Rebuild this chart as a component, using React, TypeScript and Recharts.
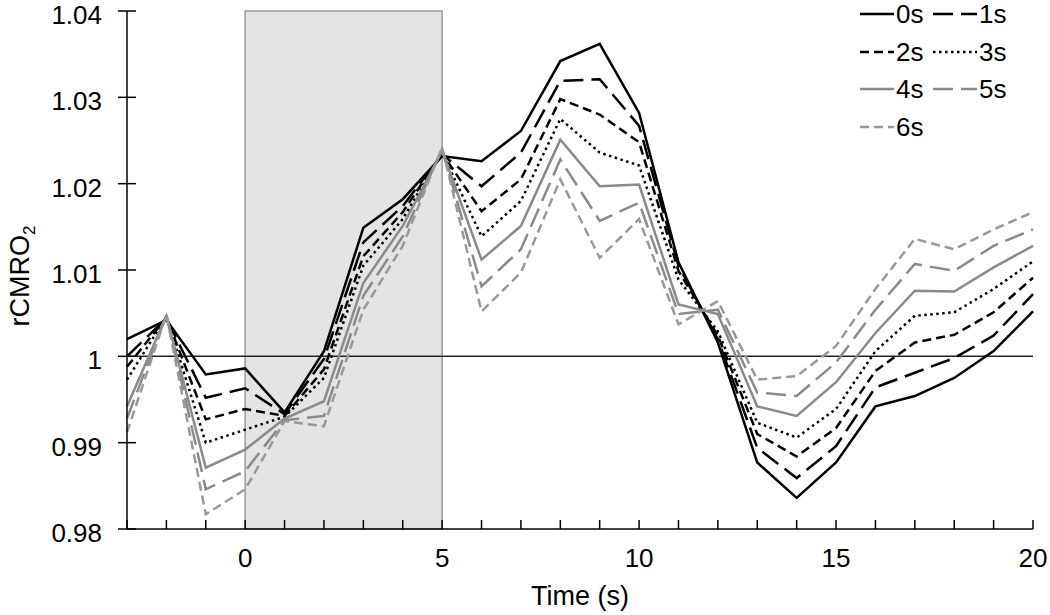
import { LineChart, Line, XAxis, YAxis, ReferenceArea, ReferenceLine, Legend } from 'recharts';

// time points (s)
const times = [-3, -2, -1, 0, 1, 2, 3, 4, 5, 6, 7, 8, 9, 10, 11, 12, 13, 14, 15, 16, 17, 18, 19, 20];

// rCMRO2 for each delay
const delay0 = [1.0020, 1.0042, 0.9979, 0.9986, 0.9935, 1.0006, 1.0149, 1.0182, 1.0232, 1.0226, 1.0261, 1.0342, 1.0362, 1.0282, 1.0109, 1.0016, 0.9877, 0.9836, 0.9877, 0.9942, 0.9954, 0.9975, 1.0006, 1.0052];
const delay1 = [1.0000, 1.0044, 0.9952, 0.9963, 0.9933, 0.9997, 1.0132, 1.0174, 1.0234, 1.0197, 1.0236, 1.0319, 1.0321, 1.0267, 1.0105, 1.0020, 0.9894, 0.9859, 0.9896, 0.9964, 0.9981, 0.9998, 1.0024, 1.0072];
const delay2 = [0.9988, 1.0045, 0.9927, 0.9939, 0.9931, 0.9985, 1.0116, 1.0167, 1.0235, 1.0168, 1.0205, 1.0298, 1.0280, 1.0248, 1.0099, 1.0024, 0.9910, 0.9884, 0.9917, 0.9983, 1.0016, 1.0025, 1.0051, 1.0091];
const delay3 = [0.9973, 1.0046, 0.9900, 0.9915, 0.9930, 0.9975, 1.0105, 1.0159, 1.0236, 1.0139, 1.0180, 1.0275, 1.0236, 1.0221, 1.0089, 1.0029, 0.9923, 0.9906, 0.9939, 1.0006, 1.0047, 1.0051, 1.0078, 1.0110];
const delay4 = [0.9942, 1.0047, 0.9871, 0.9892, 0.9928, 0.9948, 1.0085, 1.0151, 1.0238, 1.0112, 1.0151, 1.0251, 1.0197, 1.0199, 1.0060, 1.0049, 0.9942, 0.9931, 0.9970, 1.0027, 1.0076, 1.0075, 1.0103, 1.0128];
const delay5 = [0.9928, 1.0048, 0.9846, 0.9867, 0.9926, 0.9931, 1.0070, 1.0139, 1.0240, 1.0081, 1.0124, 1.0228, 1.0157, 1.0178, 1.0049, 1.0054, 0.9958, 0.9954, 0.9993, 1.0054, 1.0107, 1.0099, 1.0128, 1.0147];
const delay6 = [0.9912, 1.0048, 0.9817, 0.9846, 0.9925, 0.9919, 1.0054, 1.0128, 1.0242, 1.0052, 1.0097, 1.0205, 1.0114, 1.0159, 1.0037, 1.0064, 0.9973, 0.9977, 1.0012, 1.0078, 1.0136, 1.0124, 1.0147, 1.0167];

const yTicks = [0.98, 0.99, 1, 1.01, 1.02, 1.03, 1.04];
const xLabels = [0, 5, 10, 15, 20];
const stimStart = 0;
const stimEnd = 5;

const FONT = '"Liberation Sans", Arial, sans-serif';

const series = [
    { key: 's0', name: '0s', values: delay0, color: '#000', dash: undefined },
    { key: 's1', name: '1s', values: delay1, color: '#000', dash: '20 8' },
    { key: 's2', name: '2s', values: delay2, color: '#000', dash: '9 5' },
    { key: 's3', name: '3s', values: delay3, color: '#000', dash: '2.5 3.5' },
    { key: 's4', name: '4s', values: delay4, color: '#8a8a8a', dash: undefined },
    { key: 's5', name: '5s', values: delay5, color: '#8a8a8a', dash: '20 8' },
    { key: 's6', name: '6s', values: delay6, color: '#999', dash: '9 5' },
];

const data = times.map((t, i) => {
    const row: any = { t };
    series.forEach(s => { row[s.key] = s.values[i]; });
    return row;
});

const XTick = (props: any) => {
    const { x, y, payload } = props;
    const v = payload.value;
    return (
        <g>
            <line x1={x} x2={x} y1={y} y2={y - 9} stroke="#000" strokeWidth={1.5} />
            {xLabels.includes(v) && (
                <text x={x} y={y + 38} textAnchor="middle" fontSize={26} fontFamily={FONT} fill="#000">{v}</text>
            )}
        </g>
    );
};

const YTick = (props: any) => {
    const { x, y, payload } = props;
    const v = payload.value;
    const label = v === 1 ? '1' : v.toFixed(2);
    return (
        <g>
            <line x1={x - 9} x2={x + 9} y1={y} y2={y} stroke="#000" strokeWidth={1.5} />
            <text x={x - 25} y={y + 13} textAnchor="end" fontSize={26} fontFamily={FONT} fill="#000">{label}</text>
        </g>
    );
};

const YTitle = (props: any) => {
    const vb = props.viewBox;
    const cx = vb.x + 29;
    const cy = vb.y + vb.height / 2 + 6;
    return (
        <text x={cx} y={cy} transform={`rotate(-90, ${cx}, ${cy})`} textAnchor="middle" fontSize={27} fontFamily={FONT} fill="#000">
            rCMRO<tspan fontSize={17} dy={6}>2</tspan>
        </text>
    );
};

const LegendBox = () => {
    const rowY = [14, 52, 89, 127];
    return (
        <svg width={190} height={150}>
            {series.map((s, i) => {
                const row = Math.floor(i / 2);
                const col = i % 2;
                const y = rowY[row];
                const lx1 = col === 0 ? 0 : 73;
                const lx2 = col === 0 ? 34 : 117;
                return (
                    <g key={s.key}>
                        <line x1={lx1} x2={lx2} y1={y} y2={y} stroke={s.color} strokeWidth={2.5} strokeDasharray={s.dash} />
                        <text x={lx2 + 2} y={y + 9} fontSize={26} fontFamily={FONT} fill="#000">{s.name}</text>
                    </g>
                );
            })}
        </svg>
    );
};

export default function App() {
    return (
        <div style={{ position: 'absolute', left: 0, top: 0, background: '#fff' }}>
            <LineChart width={1050} height={615} data={data} margin={{ top: 11, right: 17, left: 0, bottom: 0 }}>
                <ReferenceArea x1={stimStart} x2={stimEnd} y1={0.98} y2={1.04} fill="#e4e4e4" fillOpacity={1} stroke="#9a9a9a" strokeWidth={1.5} />
                <ReferenceLine y={1} stroke="#222" strokeWidth={1.5} />
                <XAxis
                    dataKey="t"
                    type="number"
                    domain={[-3, 20]}
                    ticks={times}
                    interval={0}
                    height={86}
                    tickSize={0}
                    tickMargin={0}
                    tickLine={false}
                    tick={<XTick />}
                    axisLine={{ stroke: '#000', strokeWidth: 1.5 }}
                    label={{ value: 'Time (s)', position: 'insideBottom', offset: 10, fontSize: 27, fontFamily: FONT, fill: '#000' }}
                />
                <YAxis
                    type="number"
                    domain={[0.98, 1.04]}
                    ticks={yTicks}
                    interval={0}
                    width={127}
                    tickSize={0}
                    tickMargin={0}
                    tickLine={false}
                    tick={<YTick />}
                    axisLine={{ stroke: '#000', strokeWidth: 1.5 }}
                    label={{ content: <YTitle /> }}
                />
                <Legend
                    layout="horizontal"
                    verticalAlign="middle"
                    align="center"
                    content={<LegendBox />}
                    wrapperStyle={{ position: 'absolute', left: 860, top: 0, width: 190, height: 150 }}
                />
                {series.map(s => (
                    <Line
                        key={s.key}
                        dataKey={s.key}
                        name={s.name}
                        type="linear"
                        stroke={s.color}
                        strokeWidth={2.5}
                        strokeDasharray={s.dash}
                        dot={false}
                        activeDot={false}
                        isAnimationActive={false}
                    />
                ))}
            </LineChart>
        </div>
    );
}
